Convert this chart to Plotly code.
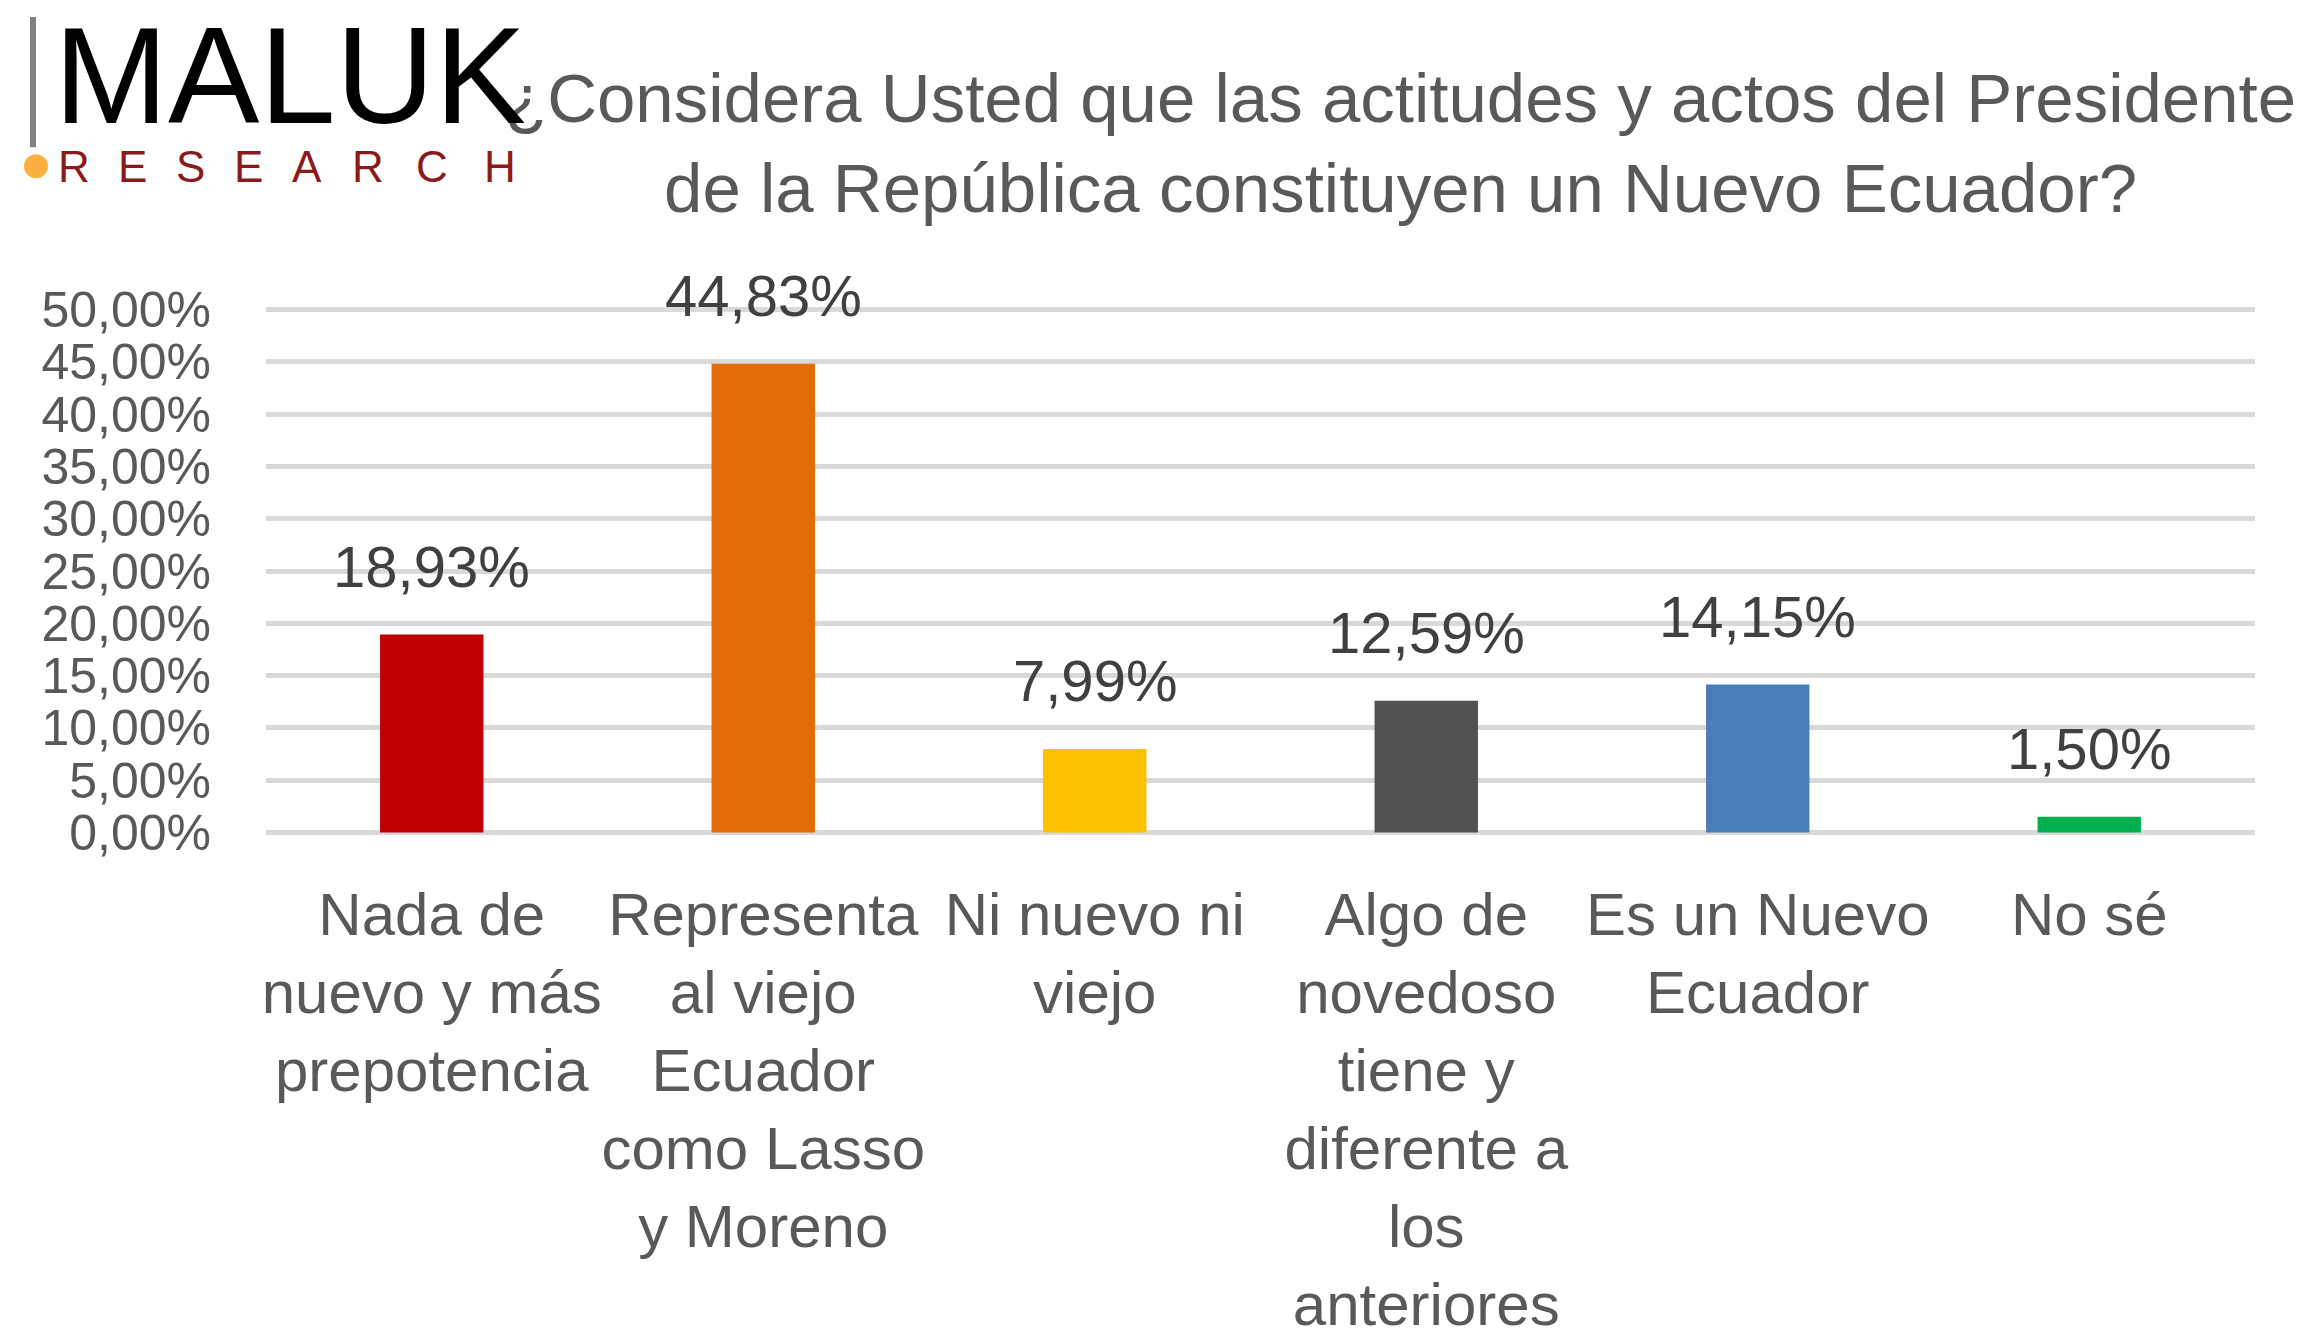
import plotly.graph_objects as go

# ---------------- data ----------------
categories = [
    "Nada de<br>nuevo y más<br>prepotencia",
    "Representa<br>al viejo<br>Ecuador<br>como Lasso<br>y Moreno",
    "Ni nuevo ni<br>viejo",
    "Algo de<br>novedoso<br>tiene y<br>diferente a<br>los<br>anteriores",
    "Es un Nuevo<br>Ecuador",
    "No sé",
]
values = [18.93, 44.83, 7.99, 12.59, 14.15, 1.50]
value_labels = ["18,93%", "44,83%", "7,99%", "12,59%", "14,15%", "1,50%"]
bar_colors = ["#C00000", "#E26B0A", "#FFC000", "#525252", "#4A7EBB", "#00B050"]
tick_values = [0, 5, 10, 15, 20, 25, 30, 35, 40, 45, 50]
tick_labels = ["0,00%", "5,00%", "10,00%", "15,00%", "20,00%", "25,00%",
               "30,00%", "35,00%", "40,00%", "45,00%", "50,00%"]
title_text = ("¿Considera Usted que las actitudes y actos del Presidente<br>"
              "de la República constituyen un Nuevo Ecuador?")
logo_main = "MALUK"
logo_sub = list("RESEARCH")

# ---------------- layout geometry ----------------
OFF = 8                      # default body margin of the html page
W, H = 2316 - 2 * OFF, 1335 - 2 * OFF
Y0, Y1 = -0.15, 50.15        # axis range (a hair beyond 0 and 50 so edge gridlines show)
PXU = (832 - 310) / 50.0     # pixels per unit
# plot edges in page pixels
Lp, Rp = 266, 2255
Tp = 310 - (Y1 - 50) * PXU
Bp = 832 + (0 - Y0) * PXU
FONT = "Liberation Sans, Arial, sans-serif"


def px(x):
    return (x - Lp) / (Rp - Lp)


def py(y):
    return (Bp - y) / (Bp - Tp)


fig = go.Figure()
fig.add_trace(go.Bar(
    x=categories,
    y=values,
    marker=dict(color=bar_colors, line=dict(width=0)),
    hoverinfo="skip",
))

annotations = []
for c, v, t in zip(categories, values, value_labels):
    annotations.append(dict(
        x=c, y=v, xref="x", yref="y", text=t, showarrow=False,
        yanchor="middle", yshift=68,
        font=dict(family=FONT, size=58, color="#404040"),
    ))

# title
annotations.append(dict(
    x=px(1400), y=py(144), xref="paper", yref="paper", text=title_text,
    showarrow=False, xanchor="center", yanchor="middle", align="center",
    font=dict(family=FONT, size=69, color="#595959"),
))

# logo text
annotations.append(dict(
    x=px(290), y=py(76), xref="paper", yref="paper", text=logo_main,
    showarrow=False, xanchor="center", yanchor="middle",
    font=dict(family=FONT, size=137, color="#000000"),
))
letter_x = [74, 132, 190, 248, 307, 368, 432, 500]
for lx, ch in zip(letter_x, logo_sub):
    annotations.append(dict(
        x=px(lx), y=py(167), xref="paper", yref="paper", text=ch,
        showarrow=False, xanchor="center", yanchor="middle",
        font=dict(family=FONT, size=44, color="#8B1A1A"),
    ))

shapes = [
    dict(type="rect", xref="paper", yref="paper",
         x0=px(30), x1=px(36), y0=py(148), y1=py(18),
         fillcolor="#808080", line=dict(width=0)),
    dict(type="circle", xref="paper", yref="paper",
         x0=px(24), x1=px(48), y0=py(179), y1=py(155),
         fillcolor="#FBB040", line=dict(width=0)),
]

fig.update_layout(
    width=W, height=H,
    margin=dict(l=Lp - OFF, r=W - (Rp - OFF), t=Tp - OFF, b=H - (Bp - OFF),
                pad=0, autoexpand=False),
    paper_bgcolor="white", plot_bgcolor="white",
    showlegend=False,
    bargap=0.688,
    annotations=annotations,
    shapes=shapes,
    font=dict(family=FONT, color="#595959"),
)
fig.update_xaxes(
    showgrid=False, zeroline=False, showline=False, ticks="",
    tickangle=0, automargin=False,
    tickfont=dict(family=FONT, size=60, color="#595959"),
    ticklabelstandoff=40,
)
fig.update_yaxes(
    range=[Y0, Y1], tickvals=tick_values, ticktext=tick_labels,
    showgrid=True, gridcolor="#D9D9D9", gridwidth=5,
    zeroline=False, showline=False, ticks="", automargin=False,
    tickfont=dict(family=FONT, size=50, color="#595959"),
    ticklabelstandoff=54,
)

fig.write_html("out.html")
